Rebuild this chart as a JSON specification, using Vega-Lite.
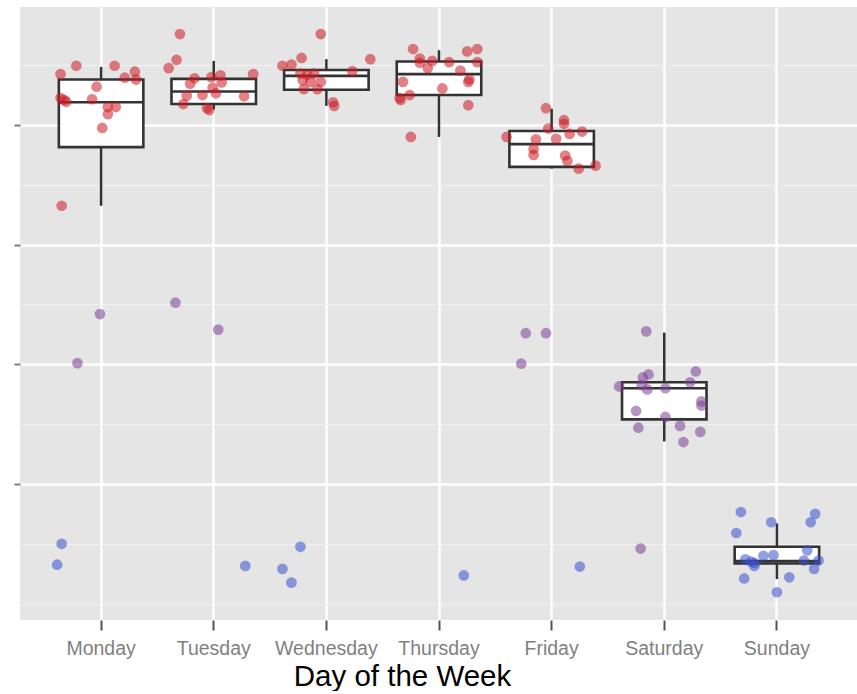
{
  "$schema": "https://vega.github.io/schema/vega-lite/v6.json",
  "width": 838,
  "height": 613,
  "padding": {"left": 13, "top": 7, "right": 0, "bottom": 0},
  "background": "white",
  "view": {"fill": "#e5e5e5", "stroke": null},
  "config": {"font": "Liberation Sans"},
  "datasets": {
    "boxes": [
      {"day": "Monday", "lower": 66.5, "q1": 76.3, "median": 83.8, "q3": 87.6, "upper": 89.7},
      {"day": "Tuesday", "lower": 82.6, "q1": 83.5, "median": 85.6, "q3": 87.7, "upper": 90.7},
      {"day": "Wednesday", "lower": 83.2, "q1": 85.9, "median": 88.2, "q3": 89.2, "upper": 91.0},
      {"day": "Thursday", "lower": 78.0, "q1": 85.0, "median": 88.5, "q3": 90.6, "upper": 92.5},
      {"day": "Friday", "lower": 72.7, "q1": 73.0, "median": 76.8, "q3": 79.0, "upper": 82.7},
      {"day": "Saturday", "lower": 27.1, "q1": 30.8, "median": 36.0, "q3": 37.0, "upper": 45.3},
      {"day": "Sunday", "lower": 4.1, "q1": 6.7, "median": 7.1, "q3": 9.5, "upper": 13.4}
    ],
    "points": [
      {"day": "Monday", "jitter": -0.36, "value": 88.5, "group": "High"},
      {"day": "Monday", "jitter": -0.22, "value": 89.9, "group": "High"},
      {"day": "Monday", "jitter": 0.12, "value": 89.9, "group": "High"},
      {"day": "Monday", "jitter": 0.30, "value": 88.9, "group": "High"},
      {"day": "Monday", "jitter": 0.21, "value": 87.9, "group": "High"},
      {"day": "Monday", "jitter": 0.31, "value": 87.6, "group": "High"},
      {"day": "Monday", "jitter": -0.04, "value": 86.4, "group": "High"},
      {"day": "Monday", "jitter": -0.36, "value": 84.5, "group": "High"},
      {"day": "Monday", "jitter": -0.31, "value": 83.9, "group": "High"},
      {"day": "Monday", "jitter": -0.33, "value": 84.2, "group": "High"},
      {"day": "Monday", "jitter": -0.08, "value": 84.3, "group": "High"},
      {"day": "Monday", "jitter": 0.06, "value": 83.0, "group": "High"},
      {"day": "Monday", "jitter": 0.13, "value": 83.0, "group": "High"},
      {"day": "Monday", "jitter": 0.06, "value": 81.8, "group": "High"},
      {"day": "Monday", "jitter": 0.01, "value": 79.5, "group": "High"},
      {"day": "Monday", "jitter": -0.35, "value": 66.5, "group": "High"},
      {"day": "Monday", "jitter": -0.21, "value": 40.2, "group": "Medium"},
      {"day": "Monday", "jitter": -0.01, "value": 48.4, "group": "Medium"},
      {"day": "Monday", "jitter": -0.35, "value": 10.0, "group": "Low"},
      {"day": "Monday", "jitter": -0.39, "value": 6.5, "group": "Low"},
      {"day": "Tuesday", "jitter": -0.30, "value": 95.2, "group": "High"},
      {"day": "Tuesday", "jitter": -0.33, "value": 90.9, "group": "High"},
      {"day": "Tuesday", "jitter": -0.40, "value": 89.5, "group": "High"},
      {"day": "Tuesday", "jitter": -0.17, "value": 87.8, "group": "High"},
      {"day": "Tuesday", "jitter": -0.21, "value": 86.9, "group": "High"},
      {"day": "Tuesday", "jitter": -0.02, "value": 88.0, "group": "High"},
      {"day": "Tuesday", "jitter": 0.06, "value": 88.3, "group": "High"},
      {"day": "Tuesday", "jitter": 0.07, "value": 87.1, "group": "High"},
      {"day": "Tuesday", "jitter": -0.01, "value": 86.2, "group": "High"},
      {"day": "Tuesday", "jitter": -0.10, "value": 85.0, "group": "High"},
      {"day": "Tuesday", "jitter": 0.02, "value": 85.3, "group": "High"},
      {"day": "Tuesday", "jitter": -0.24, "value": 84.9, "group": "High"},
      {"day": "Tuesday", "jitter": -0.27, "value": 83.5, "group": "High"},
      {"day": "Tuesday", "jitter": -0.06, "value": 82.8, "group": "High"},
      {"day": "Tuesday", "jitter": -0.04, "value": 82.5, "group": "High"},
      {"day": "Tuesday", "jitter": 0.27, "value": 84.8, "group": "High"},
      {"day": "Tuesday", "jitter": 0.35, "value": 88.5, "group": "High"},
      {"day": "Tuesday", "jitter": -0.34, "value": 50.3, "group": "Medium"},
      {"day": "Tuesday", "jitter": 0.04, "value": 45.8, "group": "Medium"},
      {"day": "Tuesday", "jitter": 0.28, "value": 6.3, "group": "Low"},
      {"day": "Wednesday", "jitter": -0.05, "value": 95.2, "group": "High"},
      {"day": "Wednesday", "jitter": -0.39, "value": 89.9, "group": "High"},
      {"day": "Wednesday", "jitter": -0.31, "value": 90.1, "group": "High"},
      {"day": "Wednesday", "jitter": -0.22, "value": 91.2, "group": "High"},
      {"day": "Wednesday", "jitter": -0.23, "value": 88.6, "group": "High"},
      {"day": "Wednesday", "jitter": -0.17, "value": 88.4, "group": "High"},
      {"day": "Wednesday", "jitter": -0.11, "value": 88.6, "group": "High"},
      {"day": "Wednesday", "jitter": -0.21, "value": 87.5, "group": "High"},
      {"day": "Wednesday", "jitter": -0.14, "value": 87.2, "group": "High"},
      {"day": "Wednesday", "jitter": -0.05, "value": 87.2, "group": "High"},
      {"day": "Wednesday", "jitter": -0.20, "value": 86.0, "group": "High"},
      {"day": "Wednesday", "jitter": -0.08, "value": 86.0, "group": "High"},
      {"day": "Wednesday", "jitter": 0.23, "value": 89.0, "group": "High"},
      {"day": "Wednesday", "jitter": 0.39, "value": 91.0, "group": "High"},
      {"day": "Wednesday", "jitter": 0.06, "value": 83.8, "group": "High"},
      {"day": "Wednesday", "jitter": 0.07, "value": 83.2, "group": "High"},
      {"day": "Wednesday", "jitter": -0.39, "value": 5.8, "group": "Low"},
      {"day": "Wednesday", "jitter": -0.31, "value": 3.5, "group": "Low"},
      {"day": "Wednesday", "jitter": -0.23, "value": 9.5, "group": "Low"},
      {"day": "Thursday", "jitter": -0.23, "value": 92.7, "group": "High"},
      {"day": "Thursday", "jitter": -0.17, "value": 91.1, "group": "High"},
      {"day": "Thursday", "jitter": -0.17, "value": 90.4, "group": "High"},
      {"day": "Thursday", "jitter": -0.06, "value": 90.7, "group": "High"},
      {"day": "Thursday", "jitter": -0.10, "value": 89.5, "group": "High"},
      {"day": "Thursday", "jitter": 0.09, "value": 90.5, "group": "High"},
      {"day": "Thursday", "jitter": 0.25, "value": 92.3, "group": "High"},
      {"day": "Thursday", "jitter": 0.34, "value": 92.7, "group": "High"},
      {"day": "Thursday", "jitter": 0.34, "value": 90.5, "group": "High"},
      {"day": "Thursday", "jitter": 0.19, "value": 89.1, "group": "High"},
      {"day": "Thursday", "jitter": 0.27, "value": 87.6, "group": "High"},
      {"day": "Thursday", "jitter": 0.26, "value": 87.2, "group": "High"},
      {"day": "Thursday", "jitter": -0.32, "value": 87.2, "group": "High"},
      {"day": "Thursday", "jitter": 0.03, "value": 86.1, "group": "High"},
      {"day": "Thursday", "jitter": -0.35, "value": 84.5, "group": "High"},
      {"day": "Thursday", "jitter": -0.34, "value": 84.2, "group": "High"},
      {"day": "Thursday", "jitter": -0.26, "value": 85.0, "group": "High"},
      {"day": "Thursday", "jitter": 0.26, "value": 83.3, "group": "High"},
      {"day": "Thursday", "jitter": -0.25, "value": 78.0, "group": "High"},
      {"day": "Thursday", "jitter": 0.22, "value": 4.7, "group": "Low"},
      {"day": "Friday", "jitter": -0.05, "value": 82.8, "group": "High"},
      {"day": "Friday", "jitter": 0.11, "value": 80.8, "group": "High"},
      {"day": "Friday", "jitter": 0.11, "value": 80.2, "group": "High"},
      {"day": "Friday", "jitter": -0.03, "value": 79.4, "group": "High"},
      {"day": "Friday", "jitter": 0.16, "value": 78.5, "group": "High"},
      {"day": "Friday", "jitter": 0.27, "value": 78.9, "group": "High"},
      {"day": "Friday", "jitter": -0.40, "value": 78.0, "group": "High"},
      {"day": "Friday", "jitter": -0.14, "value": 77.6, "group": "High"},
      {"day": "Friday", "jitter": 0.04, "value": 77.7, "group": "High"},
      {"day": "Friday", "jitter": -0.16, "value": 76.0, "group": "High"},
      {"day": "Friday", "jitter": -0.16, "value": 75.0, "group": "High"},
      {"day": "Friday", "jitter": 0.12, "value": 74.9, "group": "High"},
      {"day": "Friday", "jitter": 0.14, "value": 74.0, "group": "High"},
      {"day": "Friday", "jitter": 0.24, "value": 72.7, "group": "High"},
      {"day": "Friday", "jitter": 0.39, "value": 73.2, "group": "High"},
      {"day": "Friday", "jitter": -0.27, "value": 40.1, "group": "Medium"},
      {"day": "Friday", "jitter": -0.23, "value": 45.2, "group": "Medium"},
      {"day": "Friday", "jitter": -0.05, "value": 45.2, "group": "Medium"},
      {"day": "Friday", "jitter": 0.25, "value": 6.2, "group": "Low"},
      {"day": "Saturday", "jitter": -0.16, "value": 45.5, "group": "Medium"},
      {"day": "Saturday", "jitter": -0.14, "value": 38.3, "group": "Medium"},
      {"day": "Saturday", "jitter": -0.19, "value": 37.8, "group": "Medium"},
      {"day": "Saturday", "jitter": 0.28, "value": 38.8, "group": "Medium"},
      {"day": "Saturday", "jitter": 0.23, "value": 37.0, "group": "Medium"},
      {"day": "Saturday", "jitter": -0.40, "value": 36.3, "group": "Medium"},
      {"day": "Saturday", "jitter": -0.20, "value": 36.5, "group": "Medium"},
      {"day": "Saturday", "jitter": -0.15, "value": 35.8, "group": "Medium"},
      {"day": "Saturday", "jitter": 0.01, "value": 36.0, "group": "Medium"},
      {"day": "Saturday", "jitter": 0.33, "value": 33.8, "group": "Medium"},
      {"day": "Saturday", "jitter": 0.33, "value": 33.1, "group": "Medium"},
      {"day": "Saturday", "jitter": -0.25, "value": 32.2, "group": "Medium"},
      {"day": "Saturday", "jitter": 0.01, "value": 31.2, "group": "Medium"},
      {"day": "Saturday", "jitter": -0.23, "value": 29.4, "group": "Medium"},
      {"day": "Saturday", "jitter": 0.14, "value": 29.7, "group": "Medium"},
      {"day": "Saturday", "jitter": 0.32, "value": 28.7, "group": "Medium"},
      {"day": "Saturday", "jitter": 0.17, "value": 27.0, "group": "Medium"},
      {"day": "Saturday", "jitter": -0.21, "value": 9.2, "group": "Medium"},
      {"day": "Sunday", "jitter": -0.32, "value": 15.3, "group": "Low"},
      {"day": "Sunday", "jitter": -0.05, "value": 13.6, "group": "Low"},
      {"day": "Sunday", "jitter": 0.34, "value": 15.0, "group": "Low"},
      {"day": "Sunday", "jitter": 0.30, "value": 13.6, "group": "Low"},
      {"day": "Sunday", "jitter": -0.36, "value": 11.8, "group": "Low"},
      {"day": "Sunday", "jitter": 0.27, "value": 8.9, "group": "Low"},
      {"day": "Sunday", "jitter": -0.28, "value": 7.4, "group": "Low"},
      {"day": "Sunday", "jitter": -0.23, "value": 7.0, "group": "Low"},
      {"day": "Sunday", "jitter": -0.20, "value": 6.8, "group": "Low"},
      {"day": "Sunday", "jitter": -0.12, "value": 8.0, "group": "Low"},
      {"day": "Sunday", "jitter": -0.03, "value": 8.1, "group": "Low"},
      {"day": "Sunday", "jitter": 0.24, "value": 7.2, "group": "Low"},
      {"day": "Sunday", "jitter": 0.37, "value": 7.2, "group": "Low"},
      {"day": "Sunday", "jitter": -0.20, "value": 6.3, "group": "Low"},
      {"day": "Sunday", "jitter": 0.33, "value": 5.8, "group": "Low"},
      {"day": "Sunday", "jitter": -0.29, "value": 4.2, "group": "Low"},
      {"day": "Sunday", "jitter": 0.11, "value": 4.4, "group": "Low"},
      {"day": "Sunday", "jitter": 0.00, "value": 1.9, "group": "Low"}
    ]
  },
  "encoding": {
    "x": {
      "field": "day",
      "type": "nominal",
      "sort": ["Monday", "Tuesday", "Wednesday", "Thursday", "Friday", "Saturday", "Sunday"],
      "scale": {"paddingInner": 0, "paddingOuter": 0.22},
      "axis": {
        "title": "Day of the Week",
        "domain": false,
        "labelAngle": 0,
        "labelColor": "#7f7f7f",
        "labelFontSize": 19.5,
        "labelFont": "Liberation Sans",
        "labelBaseline": "alphabetic",
        "labelPadding": 24,
        "tickSize": 10,
        "tickWidth": 2,
        "tickColor": "#555555",
        "grid": true,
        "gridColor": "#ffffff",
        "gridWidth": 2.4,
        "bandPosition": 0.5,
        "titleFont": "Liberation Sans",
        "titleFontSize": 29.5,
        "titleFontWeight": "normal",
        "titleColor": "#000000",
        "titleBaseline": "alphabetic",
        "titleAlign": "center",
        "titleX": 382,
        "titleY": 65
      }
    }
  },
  "layer": [
    {
      "data": {"name": "boxes"},
      "mark": {"type": "rule", "color": "#333333", "strokeWidth": 2.5},
      "encoding": {
        "y": {
          "field": "lower",
          "type": "quantitative",
          "title": null,
          "scale": {"domain": [-2.74, 99.72], "nice": false, "zero": false},
          "axis": {
            "values": [0, 10, 20, 30, 40, 50, 60, 70, 80, 90],
            "labels": false,
            "title": null,
            "domain": false,
            "grid": true,
            "tickSize": 6,
            "tickWidth": 2,
            "tickColor": "#7f7f7f",
            "tickOpacity": {"condition": {"test": "datum.value % 20 === 0 && datum.value > 0", "value": 1}, "value": 0},
            "gridColor": {"condition": {"test": "datum.value % 20 === 0 && datum.value > 0", "value": "#ffffff"}, "value": "#f2f2f2"},
            "gridWidth": {"condition": {"test": "datum.value % 20 === 0 && datum.value > 0", "value": 2.4}, "value": 1.2}
          }
        },
        "y2": {"field": "upper"}
      }
    },
    {
      "data": {"name": "boxes"},
      "mark": {"type": "bar", "fill": "#ffffff", "stroke": "#333333", "strokeWidth": 2.6, "width": 84.5},
      "encoding": {
        "y": {"field": "q1", "type": "quantitative", "title": null},
        "y2": {"field": "q3"}
      }
    },
    {
      "data": {"name": "boxes"},
      "mark": {"type": "tick", "color": "#333333", "thickness": 2.6, "size": 84.5, "opacity": 1},
      "encoding": {
        "y": {"field": "median", "type": "quantitative", "title": null}
      }
    },
    {
      "data": {"name": "points"},
      "mark": {"type": "point", "filled": true, "shape": "circle", "size": 115, "opacity": 0.55, "strokeWidth": 0},
      "encoding": {
        "xOffset": {"field": "jitter", "type": "quantitative", "scale": {"domain": [-0.5, 0.5]}},
        "y": {"field": "value", "type": "quantitative", "title": null},
        "color": {
          "field": "group",
          "type": "nominal",
          "scale": {"domain": ["High", "Medium", "Low"], "range": ["#cc1a22", "#7a4093", "#3851ce"]},
          "legend": null
        }
      }
    }
  ]
}
